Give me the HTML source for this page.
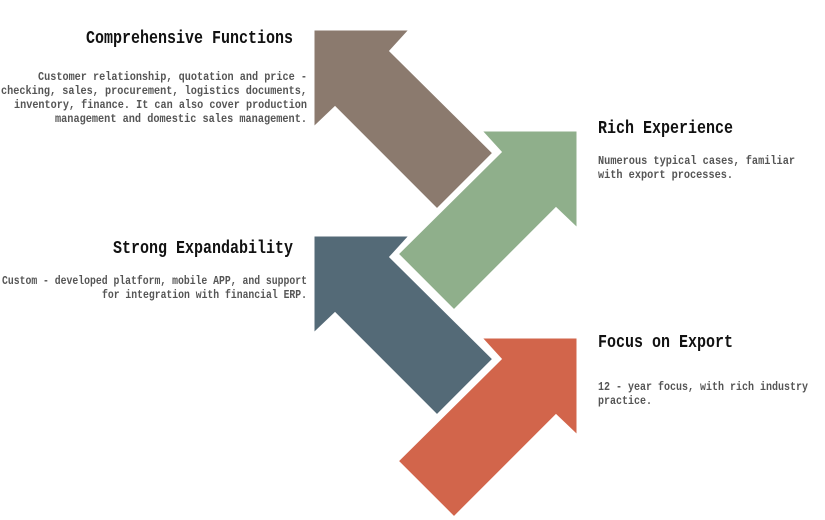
<!DOCTYPE html>
<html><head><meta charset="utf-8"><style>
html,body{margin:0;padding:0;background:#fff;}
svg{display:block}
.t{font-family:"Liberation Mono","DejaVu Sans Mono",monospace;font-weight:bold;font-size:18px;fill:#111}
.b{font-family:"Liberation Mono","DejaVu Sans Mono",monospace;font-weight:bold;font-size:12px;fill:#555}
</style></head><body>
<svg width="825" height="520" viewBox="0 0 825 520" xmlns="http://www.w3.org/2000/svg">
<g stroke="#fff" stroke-width="3" stroke-linejoin="miter">
<polygon fill="#8b7a6e" points="313,29 411,29 391,51 494,153 437,210 335,108 313,129"/>
<polygon fill="#8faf8b" points="578,130 480,130 500,152 397,254 454,311 556,209 578,230"/>
<polygon fill="#546a77" points="313,235 411,235 391,257 494,359 437,416 335,314 313,335"/>
<polygon fill="#d2654b" points="578,337 480,337 500,359 397,461 454,518 556,416 578,437"/>
</g>
<text class="t" x="293" y="43" text-anchor="end" textLength="207" lengthAdjust="spacingAndGlyphs">Comprehensive Functions</text>
<text class="b" x="307" y="80" text-anchor="end" textLength="269" lengthAdjust="spacingAndGlyphs">Customer relationship, quotation and price -</text>
<text class="b" x="307" y="94" text-anchor="end" textLength="306" lengthAdjust="spacingAndGlyphs">checking, sales, procurement, logistics documents,</text>
<text class="b" x="307" y="108" text-anchor="end" textLength="293" lengthAdjust="spacingAndGlyphs">inventory, finance. It can also cover production</text>
<text class="b" x="307" y="122" text-anchor="end" textLength="252" lengthAdjust="spacingAndGlyphs">management and domestic sales management.</text>

<text class="t" x="293" y="253" text-anchor="end" textLength="180" lengthAdjust="spacingAndGlyphs">Strong Expandability</text>
<text class="b" x="307" y="284" text-anchor="end" textLength="305" lengthAdjust="spacingAndGlyphs">Custom - developed platform, mobile APP, and support</text>
<text class="b" x="307" y="298" text-anchor="end" textLength="205" lengthAdjust="spacingAndGlyphs">for integration with financial ERP.</text>

<text class="t" x="598" y="133" textLength="135" lengthAdjust="spacingAndGlyphs">Rich Experience</text>
<text class="b" x="598" y="164" textLength="197" lengthAdjust="spacingAndGlyphs">Numerous typical cases, familiar</text>
<text class="b" x="598" y="178" textLength="135" lengthAdjust="spacingAndGlyphs">with export processes.</text>

<text class="t" x="598" y="347" textLength="135" lengthAdjust="spacingAndGlyphs">Focus on Export</text>
<text class="b" x="598" y="390" textLength="210" lengthAdjust="spacingAndGlyphs">12 - year focus, with rich industry</text>
<text class="b" x="598" y="404" textLength="54" lengthAdjust="spacingAndGlyphs">practice.</text>
</svg>
</body></html>
